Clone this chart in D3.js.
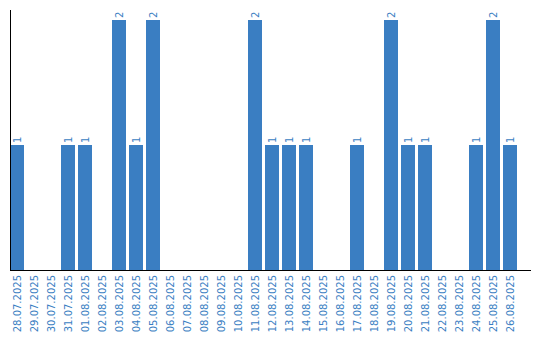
<!DOCTYPE html>
<html>
<head>
<meta charset="utf-8">
<script src="https://cdn.jsdelivr.net/npm/d3@7"></script>
<style>
  html, body { margin: 0; padding: 0; background: #fff; }
  svg { display: block; }
</style>
</head>
<body>
<div id="chart"></div>
<script>
// dates and counts
const dates = [
  '28.07.2025', '29.07.2025', '30.07.2025', '31.07.2025', '01.08.2025',
  '02.08.2025', '03.08.2025', '04.08.2025', '05.08.2025', '06.08.2025',
  '07.08.2025', '08.08.2025', '09.08.2025', '10.08.2025', '11.08.2025',
  '12.08.2025', '13.08.2025', '14.08.2025', '15.08.2025', '16.08.2025',
  '17.08.2025', '18.08.2025', '19.08.2025', '20.08.2025', '21.08.2025',
  '22.08.2025', '23.08.2025', '24.08.2025', '25.08.2025', '26.08.2025'
];
const counts = [
  1, 0, 0, 1, 1,
  0, 2, 1, 2, 0,
  0, 0, 0, 0, 2,
  1, 1, 1, 0, 0,
  1, 0, 2, 1, 1,
  0, 0, 1, 2, 1
];

const width = 540;
const height = 340;
const margin = { top: 20, right: 23, bottom: 70, left: 10 };
const color = '#3a7ec2';

const svg = d3.select('#chart')
  .append('svg')
  .attr('width', width)
  .attr('height', height);

const x = d3.scaleBand()
  .domain(dates)
  .range([margin.left, width - margin.right])
  .paddingInner(3 / 17)
  .paddingOuter(0);

const y = d3.scaleLinear()
  .domain([0, d3.max(counts)])
  .range([height - margin.bottom, margin.top]);

const data = dates.map((d, i) => ({ date: d, count: counts[i] }));

// bars
svg.selectAll('.bar')
  .data(data.filter(d => d.count > 0))
  .enter()
  .append('rect')
  .attr('class', 'bar')
  .attr('x', d => x(d.date))
  .attr('width', x.bandwidth())
  .attr('y', d => y(d.count))
  .attr('height', d => y(0) - y(d.count))
  .attr('fill', color);

// value labels, rotated
svg.selectAll('.val')
  .data(data.filter(d => d.count > 0))
  .enter()
  .append('text')
  .attr('class', 'val')
  .attr('transform', d => `translate(${x(d.date) + x.bandwidth() / 2},${y(d.count) - 2}) rotate(-90)`)
  .attr('dy', '0.35em')
  .attr('text-anchor', 'start')
  .attr('font-family', 'DejaVu Sans, sans-serif')
  .attr('font-size', '10px')
  .attr('fill', color)
  .text(d => d.count);

// x axis
const xAxis = svg.append('g')
  .attr('transform', `translate(0,${y(0)})`)
  .call(d3.axisBottom(x).tickSize(0).tickPadding(0));
xAxis.select('.domain').remove();
xAxis.selectAll('text')
  .attr('transform', 'rotate(-90)')
  .attr('x', -5)
  .attr('y', 0)
  .attr('dy', '0.35em')
  .style('text-anchor', 'end')
  .attr('font-family', 'DejaVu Sans, sans-serif')
  .attr('font-size', '10px')
  .attr('fill', color);

svg.append('line')
  .attr('x1', margin.left)
  .attr('x2', 531)
  .attr('y1', y(0) + 0.5)
  .attr('y2', y(0) + 0.5)
  .attr('stroke', '#000');

// y axis line only
svg.append('line')
  .attr('x1', margin.left + 0.5)
  .attr('x2', margin.left + 0.5)
  .attr('y1', 10)
  .attr('y2', y(0))
  .attr('stroke', '#000');
</script>
</body>
</html>
